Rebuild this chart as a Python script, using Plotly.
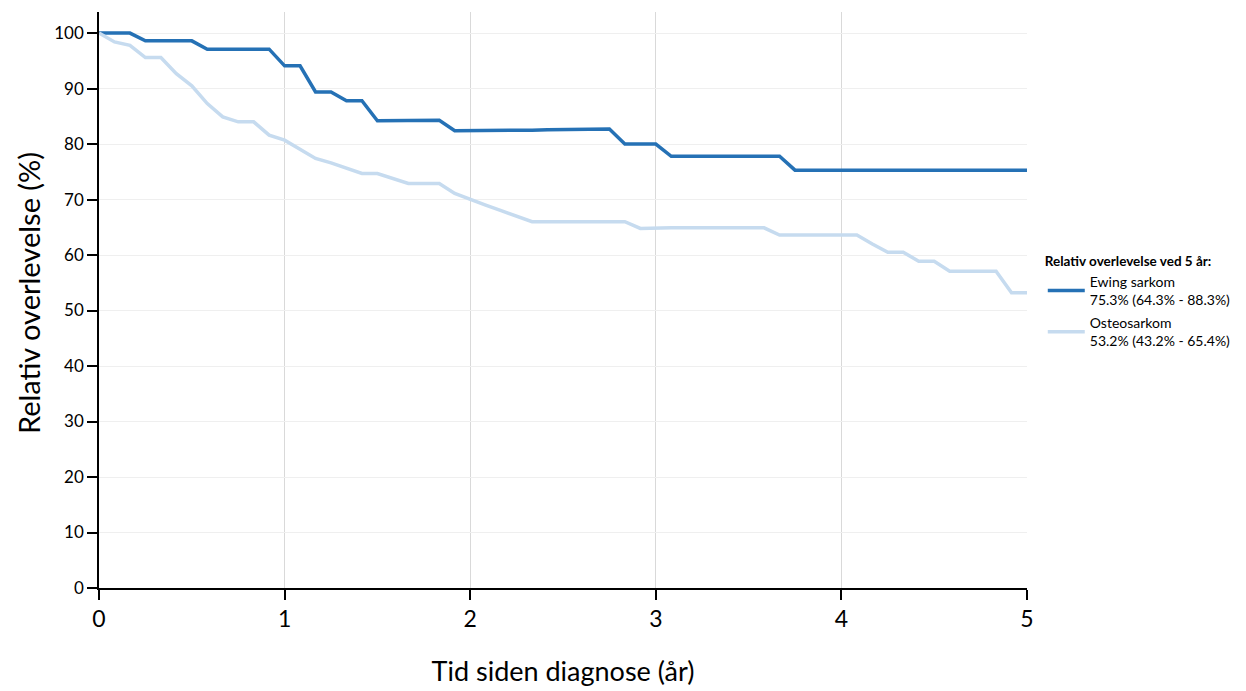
import plotly.graph_objects as go

# months since diagnosis (0..60), converted to years
months = list(range(0, 61))
years = [m / 12 for m in months]

ewing = [100, 100, 100, 98.6, 98.6, 98.6, 98.6, 97.1, 97.1, 97.1, 97.1, 97.1,
         94.1, 94.1, 89.4, 89.4, 87.8, 87.8, 84.2, 84.2, 84.2, 84.3, 84.3, 82.4,
         82.4, 82.4, 82.5, 82.5, 82.5, 82.6, 82.6, 82.6, 82.7, 82.7, 80.0, 80.0,
         80.0, 77.8, 77.8, 77.8, 77.8, 77.8, 77.8, 77.8, 77.8, 75.3, 75.3, 75.3,
         75.3, 75.3, 75.3, 75.3, 75.3, 75.3, 75.3, 75.3, 75.3, 75.3, 75.3, 75.3,
         75.3]

osteo = [100, 98.4, 97.8, 95.6, 95.6, 92.7, 90.5, 87.3, 84.9, 84.0, 84.0, 81.6,
         80.7, 79.0, 77.4, 76.6, 75.7, 74.7, 74.7, 73.8, 72.9, 72.9, 72.9, 71.1,
         70.0, 69.0, 68.0, 67.0, 66.0, 66.0, 66.0, 66.0, 66.0, 66.0, 66.0, 64.8,
         64.9, 64.9, 64.9, 64.9, 64.9, 64.9, 64.9, 64.9, 63.6, 63.6, 63.6, 63.6,
         63.6, 63.6, 62.0, 60.5, 60.5, 58.9, 58.9, 57.1, 57.1, 57.1, 57.1, 53.2,
         53.2]

series_names = ["Ewing sarkom<br>75.3% (64.3% - 88.3%)",
                "Osteosarkom<br>53.2% (43.2% - 65.4%)"]
legend_title = "<b>Relativ overlevelse ved 5 år:</b>"
x_title = "Tid siden diagnose (år)"
y_title = "Relativ overlevelse (%)"
x_ticks = [0, 1, 2, 3, 4, 5]
y_ticks = [0, 10, 20, 30, 40, 50, 60, 70, 80, 90, 100]

FONT = "Lato"

fig = go.Figure()
fig.add_trace(go.Scatter(x=years, y=ewing, mode="lines", name=series_names[0],
                         legendgroup="ewing",
                         line=dict(color="#2571b5", width=3.5)))
fig.add_trace(go.Scatter(x=years, y=osteo, mode="lines", name=series_names[1],
                         legendgroup="osteo",
                         line=dict(color="#c6dbef", width=3.5)))

fig.update_layout(
    width=1246, height=691,
    margin=dict(l=99, r=219, t=12, b=103, autoexpand=False),
    plot_bgcolor="white", paper_bgcolor="white",
    font=dict(family=FONT, color="black"),
    legend=dict(
        title=dict(text=legend_title, font=dict(size=13.5, family=FONT)),
        font=dict(size=14, family=FONT),
        x=1.017, xanchor="left", y=0.590, yanchor="top",
        tracegroupgap=2, itemwidth=37,
        bgcolor="rgba(0,0,0,0)",
    ),
    annotations=[dict(
        text=y_title, textangle=-90, showarrow=False,
        xref="paper", yref="paper", x=-0.0765, y=0.512,
        xanchor="center", yanchor="middle",
        font=dict(size=29, family=FONT, color="black"),
    )],
)

fig.update_xaxes(
    range=[0, 5], tickvals=x_ticks, ticktext=[str(v) for v in x_ticks],
    showline=True, linecolor="black", linewidth=1.5,
    ticks="outside", ticklen=10, tickcolor="black", tickwidth=1.5,
    tickfont=dict(size=23),
    showgrid=True, gridcolor="#d9d9d9", gridwidth=1,
    zeroline=False,
    title=dict(text=x_title, font=dict(size=27), standoff=31),
)
fig.update_yaxes(
    range=[0, 103.8], tickvals=y_ticks, ticktext=[str(v) for v in y_ticks],
    showline=True, linecolor="black", linewidth=1.5,
    ticks="outside", ticklen=10, tickcolor="black", tickwidth=1.5,
    tickfont=dict(size=17),
    showgrid=True, gridcolor="#efefef", gridwidth=1,
    zeroline=False,
)

fig.write_html("out.html")
